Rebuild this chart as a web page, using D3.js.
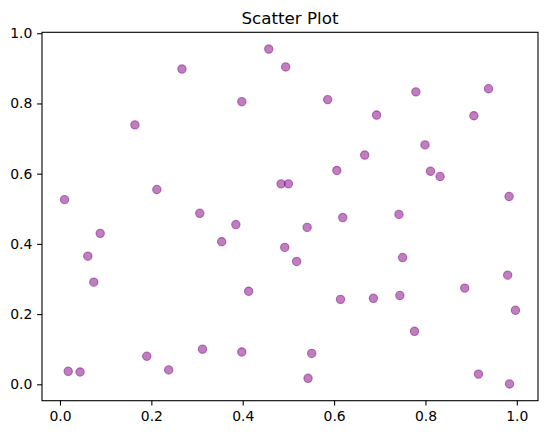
<!DOCTYPE html>
<html>
<head>
<meta charset="utf-8">
<script src="https://cdn.jsdelivr.net/npm/d3@7"></script>
<style>
  body { margin: 0; background: #fff; }
  text { font-family: "DejaVu Sans", sans-serif; fill: #000; }
</style>
</head>
<body>
<div id="canvas"></div>
<script>
// values
let xValues = [0.010, 0.018, 0.044, 0.061, 0.074, 0.088, 0.164, 0.190, 0.212, 0.238,
  0.267, 0.306, 0.312, 0.354, 0.385, 0.398, 0.398, 0.413, 0.457, 0.484,
  0.500, 0.492, 0.494, 0.518, 0.541, 0.543, 0.551, 0.586, 0.606, 0.614,
  0.619, 0.667, 0.686, 0.693, 0.742, 0.744, 0.750, 0.776, 0.779, 0.799,
  0.811, 0.832, 0.886, 0.906, 0.916, 0.938, 0.980, 0.983, 0.984, 0.997]
let yValues = [0.526, 0.037, 0.035, 0.365, 0.291, 0.430, 0.739, 0.080, 0.555, 0.041,
  0.898, 0.487, 0.100, 0.406, 0.455, 0.805, 0.092, 0.265, 0.955, 0.571,
  0.571, 0.390, 0.904, 0.350, 0.447, 0.017, 0.088, 0.811, 0.609, 0.242,
  0.475, 0.653, 0.245, 0.767, 0.484, 0.253, 0.361, 0.151, 0.833, 0.682,
  0.607, 0.592, 0.274, 0.765, 0.029, 0.842, 0.311, 0.535, 0.001, 0.211]
let xTicks = [0.0, 0.2, 0.4, 0.6, 0.8, 1.0]
let yTicks = [0.0, 0.2, 0.4, 0.6, 0.8, 1.0]
let chartTitle = "Scatter Plot"

window.onload = function (){setup()}

function setup(){

  let svg = {}
  let width = 547
  let height = 435
  let margin = {left: 42, top: 32.3, right: 9, bottom: 34.3}
  let plotW = width - margin.left - margin.right
  let plotH = height - margin.top - margin.bottom

  //matplotlib style 5% padding round the data
  function paddedDomain(values){
    let lo = d3.min(values), hi = d3.max(values)
    let pad = (hi - lo) * 0.05
    return [lo - pad, hi + pad]
  }

  let x = d3.scaleLinear().domain(paddedDomain(xValues)).range([0, plotW])
  let y = d3.scaleLinear().domain(paddedDomain(yValues)).range([plotH, 0])

  function setupSVGCanvas(){
    svg = d3.select("#canvas")
      .append("svg")
      .attr("width", width)
      .attr("height", height)
  }

  function drawPoints(g){
    let points = xValues.map((d, i) => ({x: d, y: yValues[i]}))
    g.selectAll("circle")
      .data(points)
      .join("circle")
      .attr("cx", d => x(d.x))
      .attr("cy", d => y(d.y))
      .attr("r", 4.17)
      .attr("fill", "#800080")
      .attr("fill-opacity", 0.5)
      .attr("stroke", "#800080")
      .attr("stroke-opacity", 0.5)
      .attr("stroke-width", 1.1)
  }

  function drawAxes(g){
    let xAxis = g.append("g")
      .attr("transform", `translate(0,${plotH})`)
      .call(d3.axisBottom(x).tickValues(xTicks).tickFormat(d3.format(".1f")).tickSize(4.86).tickPadding(6))
    let yAxis = g.append("g")
      .call(d3.axisLeft(y).tickValues(yTicks).tickFormat(d3.format(".1f")).tickSize(4.86).tickPadding(4.86))

    ;[xAxis, yAxis].forEach(a => {
      a.select(".domain").remove()
      a.selectAll("line").attr("stroke", "#000").attr("stroke-width", 1.1)
      a.selectAll("text")
        .attr("font-size", "13.9px")
        .attr("font-family", "DejaVu Sans, sans-serif")
        .attr("fill", "#000")
    })

    //frame round the plot
    g.append("rect")
      .attr("width", plotW)
      .attr("height", plotH)
      .attr("fill", "none")
      .attr("stroke", "#000")
      .attr("stroke-width", 1.1)
  }

  function drawTitle(){
    svg.append("text")
      .attr("x", margin.left + plotW / 2)
      .attr("y", margin.top - 8.3)
      .attr("text-anchor", "middle")
      .attr("font-size", "16.7px")
      .text(chartTitle)
  }

  setupSVGCanvas()
  let g = svg.append("g").attr("transform", `translate(${margin.left},${margin.top})`)
  drawPoints(g)
  drawAxes(g)
  drawTitle()
}
</script>
</body>
</html>
